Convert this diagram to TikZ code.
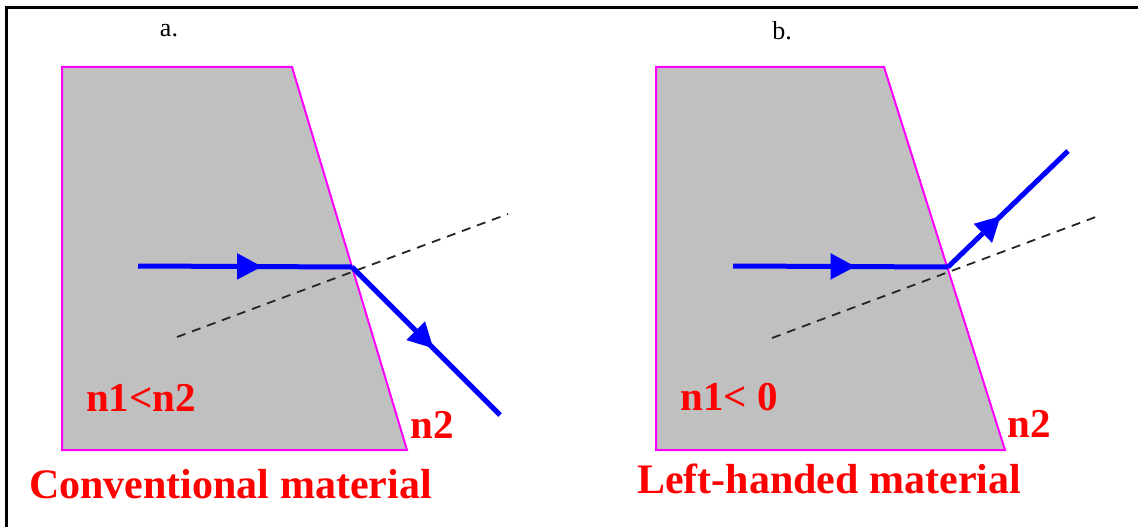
\documentclass[tikz,border=0pt]{standalone}
\usepackage{fontspec}
\setmainfont{Liberation Serif}[BoldFont={Liberation Serif Bold}]
\newfontfamily\tnrbold{Liberation Serif Bold}
\newfontfamily\tnr{Liberation Serif}
\usetikzlibrary{arrows.meta,decorations.markings}
\definecolor{slab}{RGB}{192,192,192}
\definecolor{edgemag}{RGB}{255,0,255}
\definecolor{raycol}{RGB}{0,0,255}
\definecolor{labred}{RGB}{255,0,0}
\tikzset{
  slabshape/.style={fill=slab,draw=edgemag,line width=2pt,line join=miter},
  ray/.style={draw=raycol,line width=5pt},
  midarrow/.style={postaction={decorate},decoration={markings,
     mark=at position #1 with {\arrow{Triangle[length=25pt,width=25pt]}}}},
  normalline/.style={draw=black!85,line width=1.8pt,dash pattern=on 9pt off 7pt},
  redlab/.style={text=labred,font=\tnrbold\fontsize{41}{48}\selectfont,inner sep=0pt},
  biglab/.style={text=labred,font=\tnrbold\fontsize{42}{50}\selectfont,inner sep=0pt},
  panlab/.style={text=black,font=\tnr\fontsize{26}{30}\selectfont,inner sep=0pt},
}
\begin{document}
\begin{tikzpicture}[x=1pt,y=-1pt]
\useasboundingbox (0,0) rectangle (1138,527);
\fill[white] (0,0) rectangle (1138,527);
% frame
\draw[line width=3pt] (6.5,527) -- (6.5,7.5) -- (1138,7.5);

% ---------- panel a ----------
\node[panlab] (la) at (169,31) {a.};
\draw[slabshape] (62,67) -- (292,67) -- (407,450) -- (62,450) -- cycle;
\coordinate (oa) at (352,267);
\coordinate (ina) at (138,266);
\coordinate (outa) at (500,415);
\coordinate (na1) at (177,337);
\coordinate (na2) at (508,214);
\draw[normalline] (na1) -- (na2);
\draw[ray,midarrow=0.58] (ina) -- (oa);
\draw[ray,midarrow=0.55] (oa) -- (outa);
\node[redlab,anchor=base west] (n1a) at (86,411) {n1<n2};
\node[redlab,anchor=base west] (n2a) at (410,438) {n2};
\node[biglab,anchor=base west] (ta) at (29,498) {Conventional material};

% ---------- panel b ----------
\node[panlab] (lb) at (782,31) {b.};
\draw[slabshape] (656,67) -- (884,67) -- (1005,450) -- (656,450) -- cycle;
\coordinate (ob) at (948,267);
\coordinate (inb) at (733,266);
\coordinate (outb) at (1068,151);
\coordinate (nb1) at (772,338);
\coordinate (nb2) at (1101,215);
\draw[normalline] (nb1) -- (nb2);
\draw[ray,midarrow=0.57] (inb) -- (ob);
\draw[ray,midarrow=0.44] (ob) -- (outb);
\node[redlab,anchor=base west] (n1b) at (680,410) {n1< 0};
\node[redlab,anchor=base west] (n2b) at (1007,437) {n2};
\node[biglab,anchor=base west] (tb) at (637,493) {Left-handed material};
\end{tikzpicture}
\end{document}
